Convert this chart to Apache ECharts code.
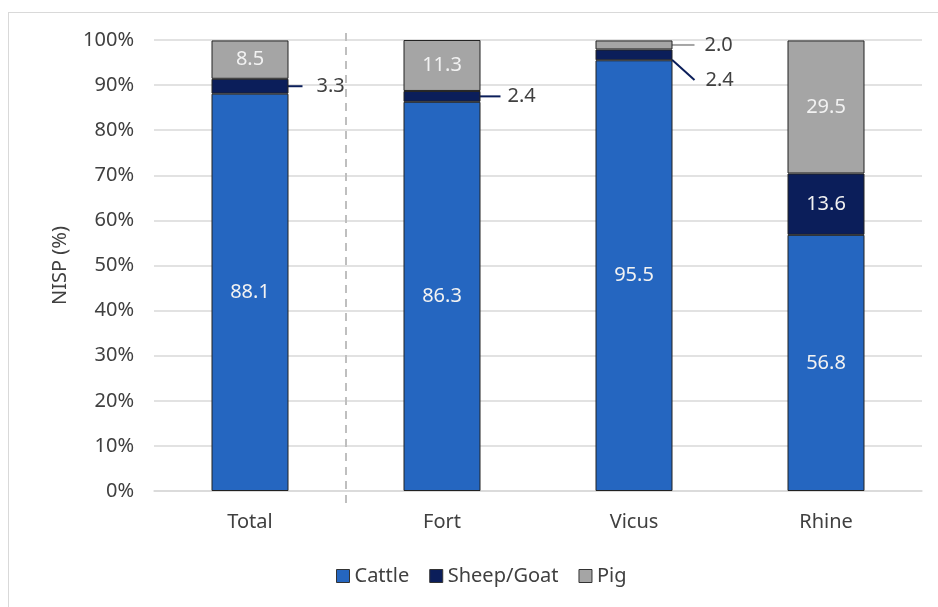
<!DOCTYPE html>
<html>
<head>
<meta charset="utf-8">
<script src="https://cdn.jsdelivr.net/npm/echarts@6/dist/echarts.min.js"></script>
<style>
html,body{margin:0;padding:0;background:#fff;}
#frame{position:absolute;left:8px;top:12px;width:940px;height:600px;border-left:1.5px solid #d9d9d9;border-top:1.5px solid #d9d9d9;}
#main{position:absolute;left:0;top:0;width:938px;height:607px;}
</style>
</head>
<body>
<div id="frame"></div>
<div id="main"></div>
<script>
const categories = ['Total', 'Fort', 'Vicus', 'Rhine'];
const cattle = [88.1, 86.3, 95.5, 56.8];
const sheepGoat = [3.3, 2.4, 2.4, 13.6];
const pig = [8.5, 11.3, 2.0, 29.5];
const yTicks = [0, 10, 20, 30, 40, 50, 60, 70, 80, 90, 100];

const FONT = 'Noto Sans';
const FS = 20;
const TXT = '#404040';
const C_CATTLE = '#2566c0';
const C_SHEEP = '#0b1e5a';
const C_PIG = '#a5a5a5';

// small segments labelled outside with a leader line: index -> [distance, gap]
const outsideSheep = { 0: [14, 14], 1: [20, 7], 2: [22, 11] };
const outsidePig = { 2: [22, 10] };

function makeData(vals, outside, color) {
  return vals.map((v, i) => {
    const o = outside[i];
    if (o) {
      return {
        value: v,
        label: {
          position: 'right', distance: o[0],
          formatter: '{s|}{v|' + v.toFixed(1) + '}',
          rich: {
            s: { width: o[1], height: 10 },
            v: { fontFamily: FONT, fontSize: FS, color: TXT }
          }
        },
        labelLine: { show: true, lineStyle: { color: color, width: 2 } }
      };
    }
    return { value: v };
  });
}

const chart = echarts.init(document.getElementById('main'), null, { renderer: 'canvas' });

const baseLabel = {
  show: true,
  position: 'inside',
  color: '#f2f2f2',
  fontFamily: FONT,
  fontSize: FS,
  formatter: p => p.value.toFixed(1)
};

const option = {
  animation: false,
  textStyle: { fontFamily: FONT },
  grid: { left: 154, right: 16, top: 40, bottom: 116 },
  legend: {
    left: 331, top: 561,
    itemWidth: 13, itemHeight: 13, itemGap: 20,
    icon: 'rect',
    textStyle: { fontFamily: FONT, fontSize: FS, color: TXT },
    data: [
      { name: 'Cattle', itemStyle: { borderColor: '#333', borderWidth: 1 } },
      { name: 'Sheep/Goat', itemStyle: { borderColor: '#333', borderWidth: 1 } },
      { name: 'Pig', itemStyle: { borderColor: '#333', borderWidth: 1 } }
    ]
  },
  xAxis: {
    type: 'category',
    data: categories,
    axisLine: { show: true, lineStyle: { color: '#d9d9d9', width: 1.5 } },
    axisTick: { show: false },
    axisLabel: { fontFamily: FONT, fontSize: FS, color: TXT, margin: 21 }
  },
  yAxis: {
    type: 'value',
    min: 0, max: 100, interval: 10,
    name: 'NISP (%)',
    nameLocation: 'middle',
    nameGap: 84,
    nameTextStyle: { fontFamily: FONT, fontSize: FS, color: TXT },
    axisLine: { show: false },
    axisTick: { show: false },
    splitLine: { lineStyle: { color: '#d9d9d9', width: 1.5 } },
    axisLabel: {
      fontFamily: FONT, fontSize: FS, color: TXT, margin: 20,
      formatter: v => (yTicks.indexOf(v) >= 0 ? v + '%' : '')
    }
  },
  series: [
    {
      name: 'Cattle', type: 'bar', stack: 'all', barWidth: 77,
      itemStyle: { color: C_CATTLE, borderColor: '#222', borderWidth: 1 },
      label: baseLabel,
      data: makeData(cattle, {}, C_CATTLE)
    },
    {
      name: 'Sheep/Goat', type: 'bar', stack: 'all', barWidth: 77,
      itemStyle: { color: C_SHEEP, borderColor: '#222', borderWidth: 1 },
      label: baseLabel,
      labelLayout: p => (p.dataIndex === 2 ? { dy: 25 } : {}),
      data: makeData(sheepGoat, outsideSheep, C_SHEEP)
    },
    {
      name: 'Pig', type: 'bar', stack: 'all', barWidth: 77,
      itemStyle: { color: C_PIG, borderColor: '#222', borderWidth: 1 },
      label: baseLabel,
      data: makeData(pig, outsidePig, C_PIG)
    }
  ]
};

chart.setOption(option);

// dashed separator on the category boundary between Total and Fort
const x0 = chart.convertToPixel({ xAxisIndex: 0 }, categories[0]);
const x1 = chart.convertToPixel({ xAxisIndex: 0 }, categories[1]);
const xs = (x0 + x1) / 2;
const yTop = chart.convertToPixel({ yAxisIndex: 0 }, 100);
const yBot = chart.convertToPixel({ yAxisIndex: 0 }, 0);
chart.setOption({
  graphic: [{
    type: 'line',
    shape: { x1: xs, y1: yTop - 7, x2: xs, y2: yBot + 12 },
    style: { stroke: '#bfbfbf', lineWidth: 2, lineDash: [8, 6] },
    z: 10
  }]
});
</script>
</body>
</html>
